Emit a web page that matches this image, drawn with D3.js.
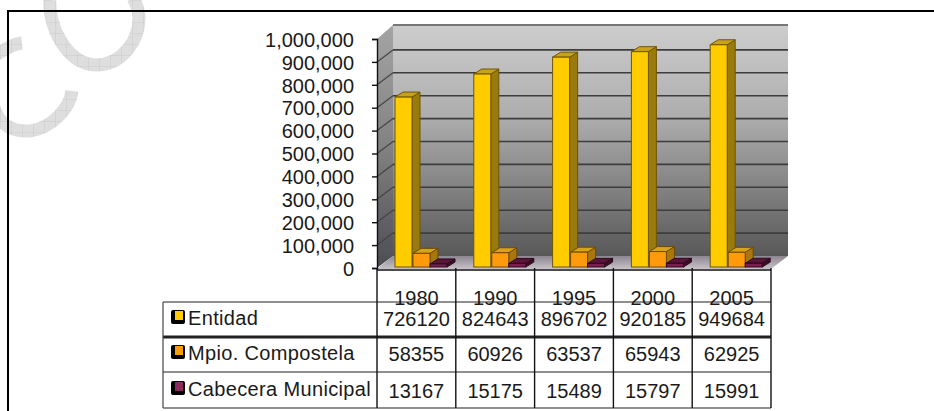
<!DOCTYPE html>
<html>
<head>
<meta charset="utf-8">
<script src="https://cdn.jsdelivr.net/npm/d3@7/dist/d3.min.js"></script>
<style>
  html, body { margin: 0; padding: 0; background: #fff; }
  svg { display: block; }
  text { font-family: "Liberation Sans", Arial, sans-serif; font-size: 20px; fill: #1a1a1a; }
</style>
</head>
<body>
<script>
var years = ['1980', '1990', '1995', '2000', '2005']
var seriesNames = ['Entidad', 'Mpio. Compostela', 'Cabecera Municipal']
var entidad = [726120, 824643, 896702, 920185, 949684]
var compostela = [58355, 60926, 63537, 65943, 62925]
var cabecera = [13167, 15175, 15489, 15797, 15991]
var yTicks = [0, 100000, 200000, 300000, 400000, 500000, 600000, 700000, 800000, 900000, 1000000]

var allSeries = [entidad, compostela, cabecera]
var colors = [
  {front: '#ffcc00', side: '#9a7a08', top: '#c9a21a', line: '#6e5600'},
  {front: '#ff9a10', side: '#a8780c', top: '#d8a418', line: '#6e4a00'},
  {front: '#7c1c50', side: '#3c0c28', top: '#5a1238', line: '#2a0a1c'}
]

var svg = d3.select('body').append('svg').attr('width', 934).attr('height', 411)
var defs = svg.append('defs')

function gradient(id, stops) {
  var g = defs.append('linearGradient').attr('id', id)
    .attr('x1', 0).attr('y1', 0).attr('x2', 0).attr('y2', 1)
  stops.forEach(function(s) {
    g.append('stop').attr('offset', s[0]).attr('stop-color', s[1])
  })
}
gradient('wall', [[0, '#cdcdcd'], [0.4, '#adadad'], [0.75, '#7c7c7c'], [1, '#585858']])
gradient('sidewall', [[0, '#a4a4a4'], [0.5, '#828282'], [1, '#4c4c54']])
gradient('floor', [[0, '#8c8690'], [1, '#c8c2c8']])

defs.append('filter').attr('id', 'soft')
  .append('feGaussianBlur').attr('stdDeviation', 0.45)

// hatch used by the watermark
var hatch = defs.append('pattern').attr('id', 'hatch')
  .attr('width', 11).attr('height', 11).attr('patternUnits', 'userSpaceOnUse')
hatch.append('rect').attr('width', 11).attr('height', 11).attr('fill', '#dedede')
hatch.append('path').attr('d', 'M0 0H11M0 0V11').attr('stroke', '#cacaca').attr('fill', 'none')

// watermark pieces behind everything
svg.append('path')
  .attr('d', 'M50 0C48 25 66 64 96 65C122 65 140 40 139 16C138 8 136 3 133 -2')
  .attr('fill', 'none').attr('stroke', 'url(#hatch)').attr('stroke-width', 13)
svg.append('path')
  .attr('d', 'M-6 56C4 50 12 44 22 43M-6 108C0 126 14 132 30 131C52 128 70 108 72 91')
  .attr('fill', 'none').attr('stroke', 'url(#hatch)').attr('stroke-width', 13)

// scales
var x = d3.scaleBand().domain(years).range([377, 771])
var y = d3.scaleLinear().domain([0, 1000000]).range([268, 39])
var barY = d3.scaleLinear().domain([0, 1000000]).range([267, 33])
var wallDx = 16, wallDy = 12
var barDx = 8, barDy = 5

var plot = svg.append('g').attr('filter', 'url(#soft)')

function pts(a) { return a.map(function(p) { return p.join(',') }).join(' ') }

// walls and floor
plot.append('polygon')
  .attr('points', pts([[x.range()[0] + wallDx, y(1000000) - wallDy - 2], [x.range()[1] + wallDx + 1, y(1000000) - wallDy - 2],
    [x.range()[1] + wallDx + 1, y(0) - wallDy], [x.range()[0] + wallDx, y(0) - wallDy]]))
  .attr('fill', 'url(#wall)')
plot.append('line')
  .attr('x1', x.range()[0] + wallDx).attr('x2', x.range()[1] + wallDx + 1)
  .attr('y1', y(1000000) - wallDy - 2).attr('y2', y(1000000) - wallDy - 2)
  .attr('stroke', '#777').attr('stroke-width', 2)
plot.append('polygon')
  .attr('points', pts([[x.range()[0], y(1000000)], [x.range()[0] + wallDx, y(1000000) - wallDy - 2],
    [x.range()[0] + wallDx, y(0) - wallDy], [x.range()[0], y(0)]]))
  .attr('fill', 'url(#sidewall)')
plot.append('polygon')
  .attr('points', pts([[x.range()[0], y(0) + 1], [x.range()[0] + wallDx, y(0) - wallDy],
    [x.range()[1] + wallDx + 1, y(0) - wallDy], [x.range()[1], y(0) + 1]]))
  .attr('fill', 'url(#floor)')

// gridlines on back wall and on side wall
var gridTicks = yTicks.slice(1, -1)
plot.selectAll('line.grid').data(gridTicks).enter().append('line')
  .attr('class', 'grid')
  .attr('x1', x.range()[0] + wallDx).attr('x2', x.range()[1] + wallDx + 1)
  .attr('y1', function(d) { return y(d) - wallDy }).attr('y2', function(d) { return y(d) - wallDy })
  .attr('stroke', '#3c3c3c').attr('stroke-width', 1.6)
plot.selectAll('line.gridside').data(gridTicks).enter().append('line')
  .attr('class', 'gridside')
  .attr('x1', x.range()[0]).attr('x2', x.range()[0] + wallDx)
  .attr('y1', function(d) { return y(d) }).attr('y2', function(d) { return y(d) - wallDy })
  .attr('stroke', '#444').attr('stroke-width', 1.2)

// 3d bars, left to right inside each category
var barStarts = [18, 36, 53]
var barW = 17
years.forEach(function(yr, i) {
  allSeries.forEach(function(vals, s) {
    var x0 = x(yr) + barStarts[s]
    var x1 = x0 + barW
    var top = barY(vals[i])
    var base = barY(0)
    var c = colors[s]
    var g = plot.append('g').attr('stroke', c.line).attr('stroke-width', 1)
    g.append('polygon')
      .attr('points', pts([[x1, top], [x1 + barDx, top - barDy], [x1 + barDx, base - barDy], [x1, base]]))
      .attr('fill', c.side)
    g.append('polygon')
      .attr('points', pts([[x0, top], [x0 + barDx, top - barDy], [x1 + barDx, top - barDy], [x1, top]]))
      .attr('fill', c.top)
    g.append('rect')
      .attr('x', x0).attr('y', top).attr('width', barW).attr('height', base - top)
      .attr('fill', c.front)
  })
})

// y axis, labels stand well clear of the ticks
var axis = d3.axisLeft(y).tickValues(yTicks).tickFormat(d3.format(',')).tickSize(5).tickPadding(18)
var axisG = svg.append('g').attr('transform', 'translate(' + x.range()[0] + ',0)').call(axis)
axisG.selectAll('text').attr('dy', '0.36em').style('font-size', '20px').style('font-family', '"Liberation Sans", Arial, sans-serif').style('fill', '#1a1a1a')
axisG.selectAll('line, path').attr('stroke', '#111').attr('stroke-width', 1.4)

// data table
var tableLeft = 163
var yearBaseline = 305
var rowLines = [302, 337, 372, 408]
var rowWeights = [1.2, 3, 1.2, 1.2]
var nameBaselines = [325, 360, 396]
var valueBaselines = [326, 361, 398]
var table = svg.append('g')

table.append('line').attr('x1', x.range()[0]).attr('x2', x.range()[1])
  .attr('y1', 270).attr('y2', 270).attr('stroke', '#111').attr('stroke-width', 1.6)
table.selectAll('line.row').data(rowLines).enter().append('line')
  .attr('class', 'row')
  .attr('x1', tableLeft).attr('x2', x.range()[1])
  .attr('y1', function(d) { return d }).attr('y2', function(d) { return d })
  .attr('stroke', '#222').attr('stroke-width', function(d, i) { return rowWeights[i] })
table.append('line').attr('x1', tableLeft).attr('x2', tableLeft)
  .attr('y1', rowLines[0]).attr('y2', rowLines[3]).attr('stroke', '#444').attr('stroke-width', 1.2)
table.selectAll('line.col').data(years.concat(['end'])).enter().append('line')
  .attr('class', 'col')
  .attr('x1', function(d, i) { return x.range()[0] + i * x.step() })
  .attr('x2', function(d, i) { return x.range()[0] + i * x.step() })
  .attr('y1', 268).attr('y2', rowLines[3])
  .attr('stroke', '#111').attr('stroke-width', 1.4)

table.selectAll('text.year').data(years).enter().append('text')
  .attr('class', 'year')
  .attr('x', function(d) { return x(d) + x.bandwidth() / 2 })
  .attr('y', yearBaseline)
  .attr('text-anchor', 'middle')
  .text(function(d) { return d })

allSeries.forEach(function(vals, s) {
  table.selectAll('text.v' + s).data(vals).enter().append('text')
    .attr('class', 'v' + s)
    .attr('x', function(d, i) { return x(years[i]) + x.bandwidth() / 2 })
    .attr('y', valueBaselines[s])
    .attr('text-anchor', 'middle')
    .text(function(d) { return d })
})

// legend keys and names in first column
seriesNames.forEach(function(name, s) {
  var by = nameBaselines[s]
  table.append('rect').attr('x', 171).attr('y', by - 15).attr('width', 14).attr('height', 14)
    .attr('rx', 2).attr('fill', '#000')
  table.append('rect').attr('x', 175).attr('y', by - 14).attr('width', 8).attr('height', 9)
    .attr('fill', s == 0 ? '#ffcc00' : s == 1 ? '#ff9a10' : '#8c2a60')
  table.append('text').attr('x', 188).attr('y', by).style('letter-spacing', '0.35px').text(name)
})

// page frame, top and left only
svg.append('path').attr('d', 'M934 11H8V411')
  .attr('fill', 'none').attr('stroke', '#000').attr('stroke-width', 2)
</script>
</body>
</html>
